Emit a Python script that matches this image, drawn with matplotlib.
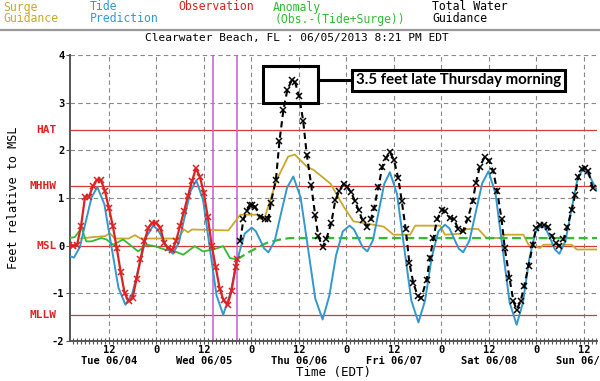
import numpy as np
import matplotlib.pyplot as plt
from matplotlib.patches import Rectangle
from matplotlib.lines import Line2D
from matplotlib.ticker import MultipleLocator, FixedLocator

# time axis: hours since Tue 06/04/2013 00:00 EDT
tide_hours = [2.2, 3.2, 4.68, 6.15, 7.63, 9.1, 10.88, 12.65, 14.43, 16.2, 17.95, 19.7, 21.45, 23.2,
              24.45, 25.7, 26.95, 28.2, 29.68, 31.15, 32.63, 34.1, 35.8, 37.5, 39.2, 40.9, 42.7, 44.5,
              46.3, 48.1, 49.15, 50.2, 51.25, 52.3, 53.88, 55.45, 57.03, 58.6, 60.45, 62.3, 64.15, 66.0,
              67.7, 69.4, 71.1, 72.8, 73.93, 75.05, 76.18, 77.3, 78.73, 80.15, 81.58, 83.0, 84.8, 86.6,
              88.4, 90.2, 91.88, 93.55, 95.23, 96.9, 98.05, 99.2, 100.35, 101.5, 103.1, 104.7, 106.3,
              107.9, 109.68, 111.45, 113.23, 115.0, 116.58, 118.15, 119.73, 121.3, 122.43, 123.55,
              124.68, 125.8, 127.3, 128.8, 130.3, 131.8, 133.5, 135.3]
tide_ft = [-0.22, -0.25, -0.03, 0.49, 1.01, 1.23, 0.87, -0.01, -0.88, -1.24, -1.00, -0.41, 0.18, 0.42,
           0.33, 0.13, -0.08, -0.17, 0.06, 0.60, 1.14, 1.37, 0.96, -0.04, -1.04, -1.45, -1.00, -0.28,
           0.25, 0.38, 0.30, 0.12, -0.06, -0.14, 0.09, 0.66, 1.22, 1.45, 1.01, -0.05, -1.11, -1.55,
           -1.05, -0.20, 0.30, 0.42, 0.34, 0.15, -0.04, -0.12, 0.12, 0.71, 1.30, 1.54, 1.08, -0.04,
           -1.15, -1.61, -1.15, -0.25, 0.30, 0.44, 0.36, 0.15, -0.06, -0.14, 0.11, 0.71, 1.31,
           1.56, 1.09, -0.05, -1.19, -1.66, -1.20, -0.30, 0.28, 0.44, 0.35, 0.14,
           -0.08, -0.17, 0.09, 0.73, 1.37, 1.63, 1.45, 1.15]

obs_hours = list(range(2, 45)) + [44.35]
obs_ft = [0.02, 0.0, 0.02, 0.42, 1.03, 1.03, 1.25, 1.38, 1.38, 1.15, 0.80, 0.42, -0.05, -0.55,
          -1.00, -1.17, -1.10, -0.70, -0.28, 0.10, 0.38, 0.48, 0.48, 0.38, 0.05, -0.05, -0.10,
          0.10, 0.42, 0.72, 1.05, 1.35, 1.62, 1.45, 1.10, 0.60, 0.00, -0.45, -0.90, -1.15, -1.24,
          -0.95, -0.45, -0.28]

surge_hours = [5.0, 8, 11, 12.3, 13.5, 17, 18.6, 20, 29.5, 31, 32, 33, 42.2, 45.2, 49.5, 50.3, 51.5,
               54.4, 57.3, 59, 62, 63.7, 65.8, 68, 71.3, 73.8, 78.8, 81.4, 83.9, 88.1, 89.4, 95.7,
               96.9, 100.7, 102.4, 105.3, 107.4, 111.2, 112, 116.7, 118, 120.9, 121.8, 128.9, 130.2,
               135.3]
surge_ft = [0.15, 0.18, 0.20, 0.26, 0.15, 0.15, 0.22, 0.15, 0.15, 0.34, 0.28, 0.34, 0.32, 0.65, 0.65,
            0.56, 0.62, 1.38, 1.87, 1.91, 1.66, 1.59, 1.45, 1.30, 0.82, 0.51, 0.44, 0.40, 0.23, 0.23,
            0.42, 0.42, 0.23, 0.25, 0.35, 0.35, 0.16, 0.16, 0.23, 0.23, 0.02, -0.05, 0.02, 0.02,
            -0.08, -0.08]

anom_hours = [2.2, 3.4, 5.1, 6.3, 7.6, 10.1, 11.4, 13.1, 15.6, 17.3, 19.4, 21.5, 23.6, 26.1, 28.7,
              30.8, 33.7, 35.8, 38.4, 40.9, 42.6, 44.35]
anom_ft = [0.16, 0.18, 0.37, 0.09, 0.09, 0.16, 0.13, 0.02, 0.13, 0.02, -0.12, 0.02, -0.01, -0.08,
           -0.12, -0.19, -0.01, -0.12, -0.08, -0.01, -0.26, -0.29]
anom_fc_hours = [44.35, 47.7, 51.9, 55.3, 57.8, 135.3]
anom_fc_ft = [-0.29, -0.12, 0.06, 0.13, 0.16, 0.16]

total_hours = [45.2, 46.0, 46.8, 47.6, 48.1, 48.9, 50.2, 51.5, 52.3, 52.9, 54.2, 55.1, 56.1, 57.1,
               58.2, 59.0, 60.1, 61.1, 62.0, 63.1, 64.1, 64.9, 66.0, 66.9, 68.2, 69.2, 70.2, 71.3,
               72.1, 73.2, 74.2, 75.1, 76.1, 77.2, 78.2, 79.0, 80.1, 81.1, 82.0, 83.0, 84.0, 85.1,
               86.0, 87.0, 87.9, 88.9, 90.0, 90.9, 92.3, 93.1, 94.0, 94.9, 96.1, 96.9, 98.2, 99.2,
               100.3, 101.4, 102.6, 103.9, 104.7, 105.7, 107.0, 108.1, 109.1, 110.1, 111.2, 112.0,
               113.2, 114.2, 115.0, 116.0, 116.9, 118.0, 119.1, 119.9, 120.9, 121.9, 122.8, 123.9,
               125.0, 125.8, 126.8, 127.8, 128.9, 129.8, 130.6, 131.5, 132.3, 133.1, 134.2]
total_ft = [0.10, 0.55, 0.72, 0.85, 0.86, 0.82, 0.61, 0.56, 0.55, 0.89, 1.38, 2.19, 2.85, 3.27,
            3.47, 3.44, 3.13, 2.61, 1.91, 1.28, 0.65, 0.20, -0.03, 0.13, 0.48, 0.95, 1.15, 1.30,
            1.24, 1.12, 0.93, 0.74, 0.53, 0.40, 0.55, 0.79, 1.24, 1.66, 1.84, 1.96, 1.80, 1.42,
            0.93, 0.34, -0.36, -0.78, -1.05, -1.10, -0.71, -0.26, 0.16, 0.55, 0.75, 0.72, 0.58, 0.55,
            0.34, 0.30, 0.55, 0.93, 1.31, 1.66, 1.87, 1.77, 1.56, 1.14, 0.55, -0.05,
            -0.68, -1.17, -1.34, -1.17, -0.85, -0.43, 0.02, 0.37, 0.44, 0.44, 0.40, 0.21,
            0.06, -0.01, 0.13, 0.39, 0.75, 1.07, 1.45, 1.61, 1.63, 1.56, 1.21]

datum_names = ['HAT', 'MHHW', 'MSL', 'MLLW']
datum_ft = [2.42, 1.26, 0.0, -1.46]

day_names = ['Tue 06/04', 'Wed 06/05', 'Thu 06/06', 'Fri 06/07', 'Sat 06/08', 'Sun 06/09']
marker_hours = [38.2, 44.35]   # magenta lines, second one is "now"

mono = 'DejaVu Sans Mono'
c_surge, c_tide, c_obs, c_anom = '#c9a82c', '#3399cc', '#dd2222', '#33bb33'

fig = plt.figure(figsize=(6, 3.81), dpi=100)
ax = fig.add_axes([70 / 600, 1 - 341 / 381, 527 / 600, 286 / 381])

# header legend
hdr = dict(family=mono, fontsize=8.3)
fig.text(3 / 600, 1 - 7 / 381, 'Surge', color=c_surge, va='center', **hdr)
fig.text(3 / 600, 1 - 19 / 381, 'Guidance', color=c_surge, va='center', **hdr)
fig.text(90 / 600, 1 - 7 / 381, 'Tide', color=c_tide, va='center', **hdr)
fig.text(90 / 600, 1 - 19 / 381, 'Prediction', color=c_tide, va='center', **hdr)
fig.text(178 / 600, 1 - 7 / 381, 'Observation', color=c_obs, va='center', **hdr)
fig.text(273 / 600, 1 - 7 / 381, 'Anomaly', color=c_anom, va='center', **hdr)
fig.text(275 / 600, 1 - 19 / 381, '(Obs.-(Tide+Surge))', color=c_anom, va='center', **hdr)
fig.text(432 / 600, 1 - 7 / 381, 'Total Water', color='black', va='center', **hdr)
fig.text(432 / 600, 1 - 19 / 381, 'Guidance', color='black', va='center', **hdr)
fig.add_artist(Line2D([0, 1], [1 - 30 / 381] * 2, color='#999999', lw=1.6))
fig.text(297 / 600, 1 - 38 / 381, 'Clearwater Beach, FL : 06/05/2013 8:21 PM EDT',
         ha='center', va='center', family=mono, fontsize=8)

# grid
for h in range(12, 136, 12):
    ax.axvline(h, color='#888888', lw=0.8, ls=(0, (4, 3)), zorder=1)
for v in [-1, 1, 2, 3, 4]:
    ax.axhline(v, color='#888888', lw=0.8, ls=(0, (4, 3)), zorder=1)

# datums
for name, v in zip(datum_names, datum_ft):
    ax.axhline(v, color='#d43a3a', lw=0.9, zorder=2)
    ax.text(-0.026, v, name, transform=ax.get_yaxis_transform(), ha='right', va='center',
            color='#dd2222', family=mono, fontsize=8, fontweight='bold')

for h in marker_hours:
    ax.axvline(h, color='#cc66dd', lw=1.2, zorder=2)

ax.plot(surge_hours, surge_ft, color=c_surge, lw=1.3, zorder=3)
ax.plot(tide_hours, tide_ft, color=c_tide, lw=1.4, zorder=4)
ax.plot(anom_hours, anom_ft, color=c_anom, lw=1.3, zorder=3)
ax.plot(anom_fc_hours, anom_fc_ft, color=c_anom, lw=1.6, ls=(0, (4, 2)), zorder=3)
ax.plot(obs_hours, obs_ft, color=c_obs, lw=1.6, marker='x', ms=4.5, mew=1.1, zorder=5)
ax.plot(total_hours, total_ft, color='black', lw=1.5, ls=(0, (3, 2)), marker='x', ms=4.5,
        mew=1.1, zorder=6)

ax.set_xlim(2.2, 135.3)
ax.set_ylim(-2, 4)
for s in ['top', 'right']:
    ax.spines[s].set_visible(False)
for s in ['left', 'bottom']:
    ax.spines[s].set_color('#555555')
    ax.spines[s].set_linewidth(1.4)

major = list(range(12, 136, 12))
labels = []
for h in major:
    if h % 24 == 12:
        labels.append('12\n' + day_names[h // 24])
    else:
        labels.append('0')
ax.xaxis.set_major_locator(FixedLocator(major))
ax.set_xticklabels(labels, family=mono, fontsize=7.5, fontweight='bold', linespacing=1.1)
ax.xaxis.set_minor_locator(MultipleLocator(1))
ax.tick_params(axis='x', which='both', direction='inout', length=4, width=0.8,
               color='#555555', pad=1)
ax.set_yticks(range(-2, 5))
ax.set_yticklabels([str(v) for v in range(-2, 5)], family=mono, fontsize=7.5, fontweight='bold')
ax.tick_params(axis='y', direction='out', length=3, width=0.8, color='#555555', pad=1)
ax.set_xlabel('Time (EDT)', family=mono, fontsize=9, labelpad=0)
ax.set_ylabel('Feet relative to MSL', family=mono, fontsize=8.5, labelpad=23)

# callout for the peak
ipk = int(np.argmax(total_ft))
pk_h, pk_v = total_hours[ipk], total_ft[ipk]
ax.add_patch(Rectangle((pk_h - 7.2, 3.0), 13.9, 0.77, fill=False, ec='black', lw=2.2,
                       zorder=8, clip_on=False))
ax.plot([pk_h + 6.7, 73.4], [pk_v, pk_v], color='black', lw=2.2, zorder=8)
ax.text(74.4, pk_v, '%.1f feet late Thursday morning' % pk_v, ha='left', va='center',
        family='Lato', fontweight='bold', fontsize=10.8, zorder=9,
        bbox=dict(boxstyle='square,pad=0.25', fc='white', ec='black', lw=2.2))

fig.savefig('out.png', dpi=100)
